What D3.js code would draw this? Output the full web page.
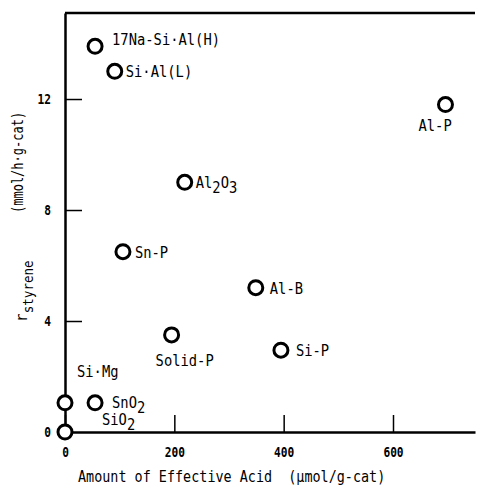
<!DOCTYPE html>
<html>
<head>
<meta charset="utf-8">
<script src="https://cdn.jsdelivr.net/npm/d3@7"></script>
<style>
  body { margin: 0; background: #fff; }
  svg { display: block; }
  text { font-family: "DejaVu Sans Mono", monospace; fill: #000; white-space: pre; }
</style>
</head>
<body>
<svg id="chart" width="477" height="485"></svg>
<script>
// catalysts, effective acid amount (umol/g-cat) and styrene rate (mmol/h.g-cat)
// "_2" means the 2 is a subscript
const catalysts = ["17Na-Si·Al(H)", "Si·Al(L)", "Al_2O_3", "Al-P", "Sn-P", "Solid-P", "Si·Mg", "SnO_2", "SiO_2", "Al-B", "Si-P"];
const acidAmount = [55, 91, 219, 696, 106, 195, 0, 55, 0, 349, 395];
const styreneRate = [13.9, 13.0, 9.0, 11.8, 6.5, 3.5, 1.05, 1.05, 0, 5.2, 2.95];

const xTicks = [0, 200, 400, 600];
const yTicks = [0, 4, 8, 12];

// where each label sits relative to its circle (dx, dy of the baseline start)
const labelOffsets = [[17, -1], [11, 6], [11, 6], [-27, 26], [12, 6], [-16, 31], [12, -26], [17, 5], [37, -7], [14, 6], [15, 6]];

const svg = d3.select("#chart");

const x = d3.scaleLinear().domain([0, 750]).range([65, 475]);
const y = d3.scaleLinear().domain([0, 15.1]).range([432, 13]);

// squeeze text a bit, the original uses a narrow typewriter face
function narrow(sel, sx) {
  sel.each(function() {
    const t = d3.select(this);
    const px = +t.attr("x") || 0;
    t.attr("x", px / sx).attr("transform", `scale(${sx},1)`);
  });
}

// axes
const yAxis = svg.append("g")
  .attr("transform", `translate(${x(0)},0)`)
  .call(d3.axisLeft(y).tickValues(yTicks).tickSize(-17).tickSizeOuter(0).tickPadding(14));

const xAxis = svg.append("g")
  .attr("transform", `translate(0,${y(0)})`)
  .call(d3.axisBottom(x).tickValues(xTicks).tickSize(-17).tickSizeOuter(0).tickPadding(15));

[yAxis, xAxis].forEach(ax => {
  ax.select(".domain").attr("stroke", "#000").attr("stroke-width", 2.5);
  ax.selectAll(".tick line").attr("stroke", "#000").attr("stroke-width", 1.5);
  ax.selectAll(".tick text")
    .attr("fill", "#000")
    .style("font-family", '"DejaVu Sans Mono", monospace')
    .style("font-size", "14px")
    .style("font-weight", "bold")
    .call(narrow, 0.8);
});
yAxis.select(".tick line").remove();

// top frame line
svg.append("line")
  .attr("x1", x(0)).attr("x2", 475)
  .attr("y1", y(15.1)).attr("y2", y(15.1))
  .attr("stroke", "#000").attr("stroke-width", 2.5);

// points
svg.append("g")
  .selectAll("circle")
  .data(catalysts)
  .enter().append("circle")
  .attr("cx", (d, i) => x(acidAmount[i]))
  .attr("cy", (d, i) => y(styreneRate[i]))
  .attr("r", 7)
  .attr("fill", "#fff")
  .attr("stroke", "#000")
  .attr("stroke-width", 3);

// point labels
const labels = svg.append("g")
  .selectAll("text")
  .data(catalysts)
  .enter().append("text")
  .attr("font-size", 15)
  .attr("transform", (d, i) =>
    `translate(${x(acidAmount[i]) + labelOffsets[i][0]},${y(styreneRate[i]) + labelOffsets[i][1]}) scale(0.92,1)`);

labels.each(function(d) {
  const t = d3.select(this);
  const parts = d.split(/(_\d)/).filter(p => p !== "");
  let shifted = false;
  parts.forEach(p => {
    if (p.startsWith("_")) {
      t.append("tspan").attr("dy", shifted ? 0 : 5).text(p.slice(1));
      shifted = true;
    } else {
      t.append("tspan").attr("dy", shifted ? -5 : 0).text(p);
      shifted = false;
    }
  });
});

// axis titles
svg.append("text")
  .attr("font-size", 16)
  .attr("transform", "translate(78,482) scale(0.84,1)")
  .text("Amount of Effective Acid  (\u03bcmol/g-cat)");

const yt = svg.append("text")
  .attr("font-size", 16)
  .attr("transform", "translate(27,322) rotate(-90) scale(0.9,1)");
yt.append("tspan").text("r");
yt.append("tspan").attr("dy", 6).attr("font-size", 14).text("styrene");

svg.append("text")
  .attr("font-size", 15)
  .attr("transform", "translate(23,213) rotate(-90) scale(0.8,1)")
  .text("(mmol/h\u00b7g-cat)");
</script>
</body>
</html>
